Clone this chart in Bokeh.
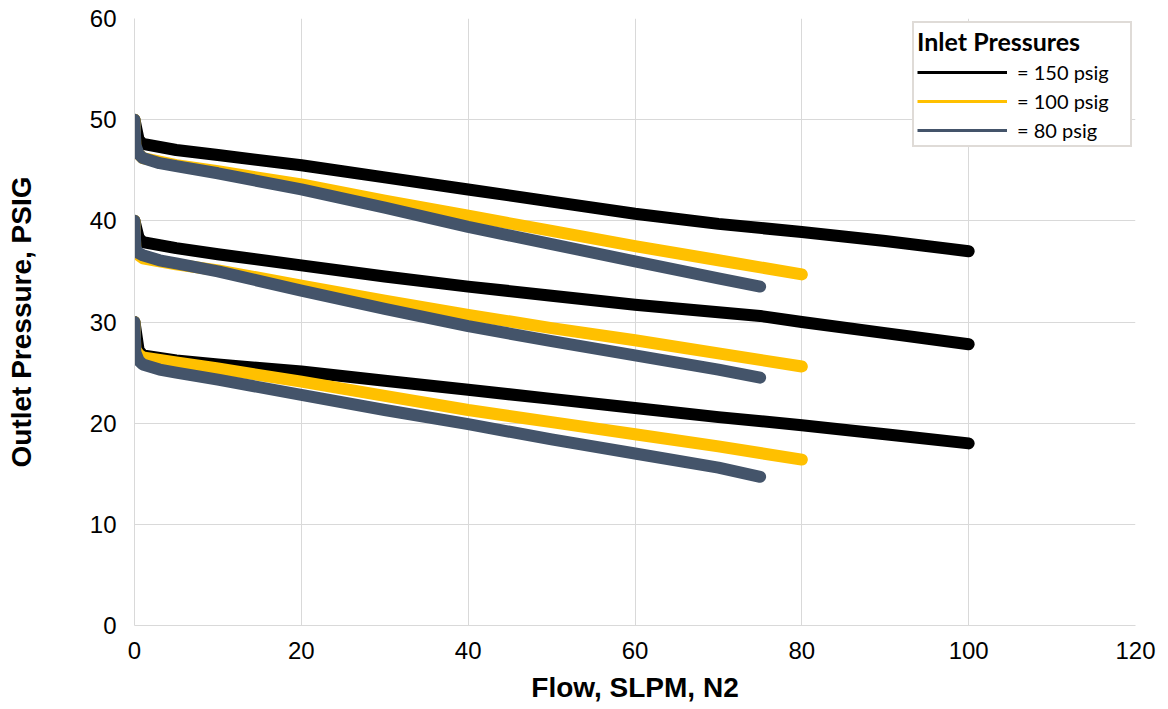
from bokeh.plotting import figure
from bokeh.models import Range1d, Legend, LegendItem, FixedTicker
from bokeh.embed import file_html
from bokeh.resources import INLINE

# ---- data ----
# set point ~50 psig
x150_a = [0, 0.5, 1, 5, 10, 20, 30, 40, 50, 60, 70, 80, 90, 100]
y150_a = [50, 48.0, 47.6, 47.0, 46.5, 45.5, 44.3, 43.1, 41.9, 40.7, 39.7, 38.9, 38.0, 37.0]
x100_a = [0, 0.1, 0.5, 1, 5, 10, 20, 30, 40, 50, 60, 70, 80]
y100_a = [50, 47.2, 46.6, 46.2, 45.5, 44.9, 43.6, 42.0, 40.5, 39.0, 37.5, 36.1, 34.7]
x80_a = [0, 0.1, 0.5, 1, 3, 5, 10, 20, 30, 40, 50, 60, 70, 75]
y80_a = [50, 47.5, 46.6, 46.2, 45.7, 45.4, 44.7, 43.1, 41.3, 39.4, 37.7, 36.0, 34.3, 33.5]

# set point ~40 psig
x150_b = [0, 0.5, 1, 5, 10, 20, 30, 40, 50, 60, 75, 80, 90, 100]
y150_b = [40, 38.3, 37.9, 37.3, 36.7, 35.6, 34.5, 33.5, 32.6, 31.7, 30.6, 30.0, 28.9, 27.8]
x100_b = [0, 0.1, 0.5, 1, 5, 10, 20, 30, 40, 50, 60, 70, 80]
y100_b = [40, 37.0, 36.6, 36.3, 35.7, 35.1, 33.6, 32.1, 30.7, 29.4, 28.2, 26.9, 25.6]
x80_b = [0, 0.1, 0.5, 1, 3, 5, 10, 20, 30, 40, 50, 60, 70, 75]
y80_b = [40, 37.3, 36.8, 36.6, 36.1, 35.8, 35.0, 33.1, 31.3, 29.6, 28.1, 26.7, 25.3, 24.5]

# set point ~30 psig
x150_c = [0, 0.5, 1, 5, 10, 20, 30, 40, 50, 60, 70, 80, 90, 100]
y150_c = [30, 27.2, 26.7, 26.2, 25.8, 25.1, 24.2, 23.3, 22.4, 21.5, 20.6, 19.8, 18.9, 18.0]
x100_c = [0, 0.1, 0.5, 1, 5, 10, 20, 30, 40, 50, 60, 70, 80]
y100_c = [30, 27.3, 26.8, 26.5, 26.0, 25.4, 24.1, 22.7, 21.3, 20.1, 18.9, 17.7, 16.4]
x80_c = [0, 0.1, 0.5, 1, 3, 5, 10, 20, 30, 40, 50, 60, 70, 75]
y80_c = [30, 27.0, 26.2, 25.8, 25.3, 25.0, 24.3, 22.8, 21.3, 19.9, 18.4, 17.0, 15.6, 14.7]

series_names = ["= 150 psig", "= 100 psig", "= 80 psig"]
series_colors = ["#000000", "#FFC000", "#44546A"]
x_ticks = [0, 20, 40, 60, 80, 100, 120]
y_ticks = [0, 10, 20, 30, 40, 50, 60]

groups = [
    [(x150_a, y150_a), (x150_b, y150_b), (x150_c, y150_c)],
    [(x100_a, y100_a), (x100_b, y100_b), (x100_c, y100_c)],
    [(x80_a, y80_a), (x80_b, y80_b), (x80_c, y80_c)],
]

p = figure(width=1164, height=708, output_backend="svg", toolbar_location=None,
           x_range=Range1d(0, 120), y_range=Range1d(0, 60),
           min_border_left=134, min_border_right=29, min_border_top=18, min_border_bottom=83)
p.outline_line_color = None
p.background_fill_color = "white"

for color, grp in zip(series_colors, groups):
    for xs, ys in grp:
        p.line(xs, ys, line_color=color, line_width=12, line_cap="round", line_join="round")

# axes
for ax in (p.xaxis[0], p.yaxis[0]):
    ax.axis_line_color = "#d9d9d9"
    ax.axis_line_width = 1
    ax.major_tick_line_color = None
    ax.minor_tick_line_color = None
    ax.major_label_text_font = "Liberation Sans"
    ax.major_label_text_font_size = "24px"
    ax.major_label_text_color = "#000000"
    ax.axis_label_text_font = "Liberation Sans"
    ax.axis_label_text_font_style = "bold"
    ax.axis_label_text_font_size = "28px"
    ax.axis_label_text_color = "#000000"

p.xaxis[0].ticker = FixedTicker(ticks=x_ticks)
p.yaxis[0].ticker = FixedTicker(ticks=y_ticks)
p.xaxis[0].axis_label = "Flow, SLPM, N2"
p.yaxis[0].axis_label = "Outlet Pressure, PSIG"
p.xaxis[0].major_label_standoff = 10
p.yaxis[0].major_label_standoff = 12
p.xaxis[0].axis_label_standoff = 10
p.yaxis[0].axis_label_standoff = 50

p.xgrid.ticker = FixedTicker(ticks=x_ticks)
p.ygrid.ticker = FixedTicker(ticks=y_ticks)
p.grid.grid_line_color = "#d9d9d9"
p.grid.grid_line_width = 1

# legend with thin sample lines (drawn outside the visible ranges)
legend_x = [-20, -10]
legend_y = [-20, -20]
items = []
for name, color in zip(series_names, series_colors):
    r = p.line(legend_x, legend_y, line_color=color, line_width=3)
    items.append(LegendItem(label=name, renderers=[r]))

legend = Legend(items=items, location="top_right", title="Inlet Pressures")
legend.title_text_font = "Lato"
legend.title_text_font_style = "bold"
legend.title_text_font_size = "25px"
legend.title_text_color = "#000000"
legend.title_standoff = 4
legend.label_text_font = "Lato"
legend.label_text_font_size = "20px"
legend.label_text_color = "#000000"
legend.glyph_width = 90
legend.glyph_height = 20
legend.label_height = 20
legend.label_width = 110
legend.label_standoff = 10
legend.spacing = 5
legend.padding = 3
legend.margin = 3
legend.border_line_color = "#bfb8b0"
legend.border_line_width = 2
legend.background_fill_color = "white"
legend.background_fill_alpha = 1.0
p.add_layout(legend, "center")

open("out.html", "w").write(file_html(p, INLINE))
